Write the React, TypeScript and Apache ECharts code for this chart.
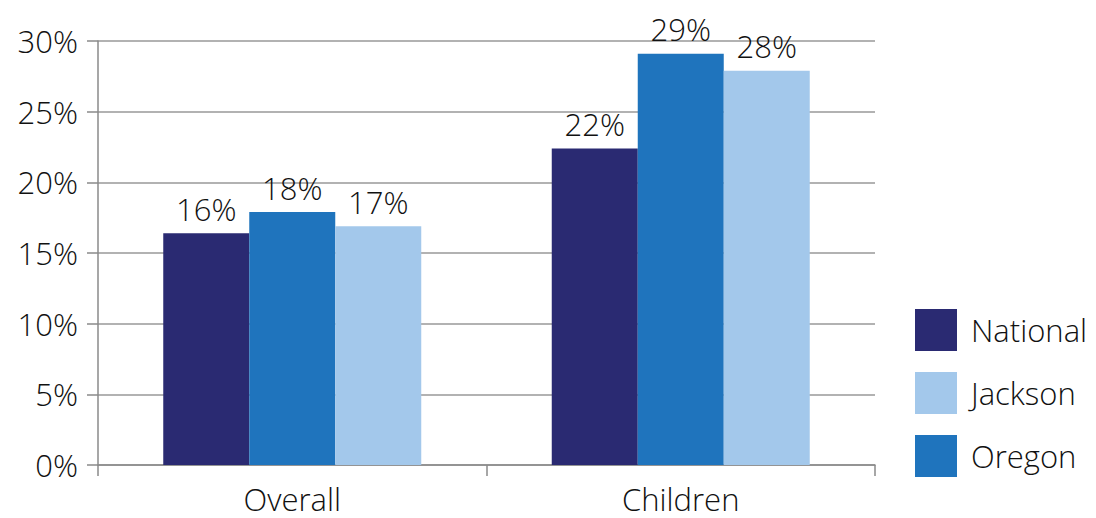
import React, { useEffect, useRef } from "react";
import * as echarts from "echarts";

const categories = ["Overall", "Children"];
const national = [16.4, 22.4];
const oregon = [17.9, 29.1];
const jackson = [16.9, 27.9];
const legendOrder = ["National", "Jackson", "Oregon"];

const FONT = "Open Sans";
const FS = 31;

export default function App() {
  const ref = useRef<HTMLDivElement>(null);
  useEffect(() => {
    const chart = echarts.init(ref.current!, undefined, { renderer: "svg" });
    const label = {
      show: true,
      position: "top",
      distance: 9,
      color: "#111",
      fontFamily: FONT,
      fontWeight: 300,
      fontSize: FS,
      formatter: (p: any) => Math.round(p.value) + "%",
    };
    const mk = (name: string, data: number[], color: string) => ({
      name,
      type: "bar",
      data,
      barWidth: 86,
      barGap: "0%",
      itemStyle: { color },
      label,
    });
    chart.setOption({
      animation: false,
      grid: { left: 98, right: 221, top: 41, bottom: 53, containLabel: false },
      legend: {
        data: legendOrder,
        orient: "vertical",
        left: 915,
        top: 309,
        padding: 0,
        itemWidth: 42,
        itemHeight: 42,
        itemGap: 21,
        icon: "rect",
        textStyle: { fontFamily: FONT, fontWeight: 300, fontSize: FS, color: "#111", padding: [0, 0, 0, 9] },
      },
      xAxis: {
        type: "category",
        data: categories,
        axisLine: { lineStyle: { color: "#8a8a8a", width: 1.5 } },
        axisTick: { show: true, length: 11, lineStyle: { color: "#8a8a8a", width: 1.5 } },
        axisLabel: { fontFamily: FONT, fontWeight: 300, fontSize: FS, color: "#111", margin: 18 },
      },
      yAxis: {
        type: "value",
        min: 0,
        max: 30,
        interval: 5,
        axisLine: { show: true, lineStyle: { color: "#8a8a8a", width: 1.5 } },
        axisTick: { show: true, length: 11, lineStyle: { color: "#8a8a8a", width: 1.5 } },
        splitLine: { lineStyle: { color: "#999", width: 1.5 } },
        axisLabel: {
          fontFamily: FONT,
          fontWeight: 300,
          fontSize: FS,
          color: "#111",
          margin: 20,
          formatter: "{value}%",
        },
      },
      series: [
        mk("National", national, "#2a2a72"),
        mk("Oregon", oregon, "#1f74bd"),
        mk("Jackson", jackson, "#a3c8eb"),
      ],
    });
    return () => chart.dispose();
  }, []);
  return <div ref={ref} style={{ width: 1096, height: 518, position: "absolute", left: 0, top: 0, background: "#fff" }} />;
}
